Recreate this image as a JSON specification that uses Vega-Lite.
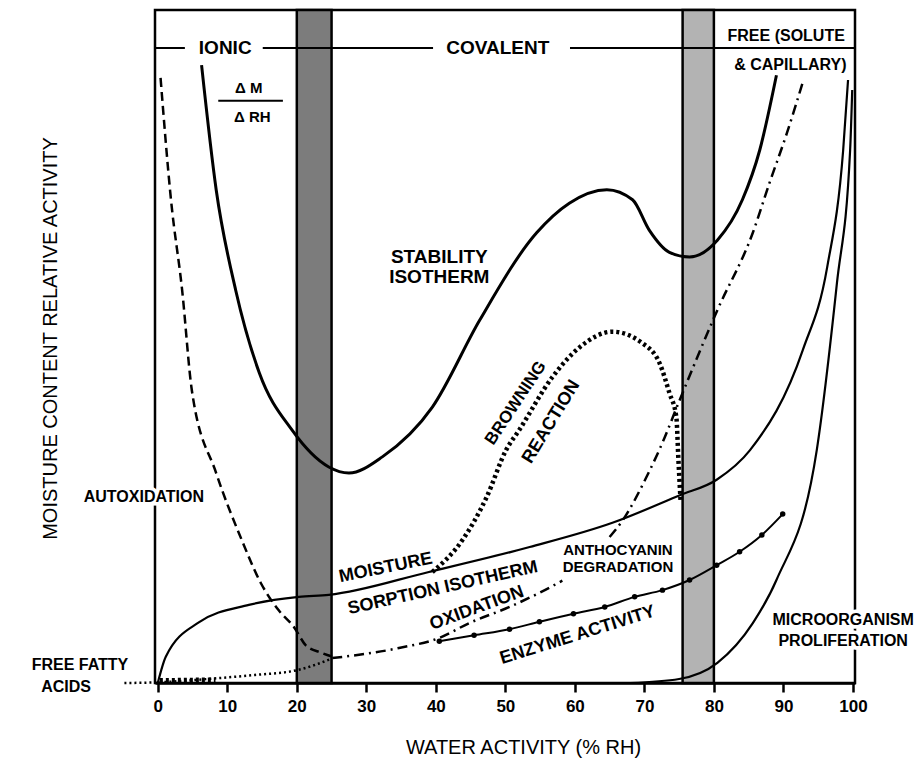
{
  "$schema": "https://vega.github.io/schema/vega-lite/v6.json",
  "width": 700,
  "height": 673,
  "autosize": "none",
  "padding": {"left": 155, "top": 10, "right": 61, "bottom": 79},
  "background": "white",
  "view": {"stroke": "black", "strokeWidth": 2.5},
  "config": {"font": "Liberation Sans", "axis": {"grid": false}},
  "datasets": {
    "bands": [
      {"x": 20, "xe": 25, "b": "hatched"},
      {"x": 75.5, "xe": 80, "b": "stippled"}
    ],
    "rules": [
      {"x": -0.4, "xe": 3.9, "y": 94.35},
      {"x": 15.1, "xe": 39.6, "y": 94.35},
      {"x": 59.3, "xe": 100.3, "y": 94.35},
      {"x": 8.7, "xe": 18.0, "y": 86.5}
    ],
    "curves": [
      {"s": "stab", "x": 6.3, "y": 91.8}, {"s": "stab", "x": 8.4, "y": 73.3}, {"s": "stab", "x": 11.2, "y": 58.4},
      {"s": "stab", "x": 14.6, "y": 46.1}, {"s": "stab", "x": 19.3, "y": 37.6}, {"s": "stab", "x": 24.6, "y": 32.1},
      {"s": "stab", "x": 27.5, "y": 31.2}, {"s": "stab", "x": 32.3, "y": 33.6}, {"s": "stab", "x": 39.5, "y": 41.0},
      {"s": "stab", "x": 46.3, "y": 53.9}, {"s": "stab", "x": 54.5, "y": 66.9}, {"s": "stab", "x": 59.2, "y": 71.3},
      {"s": "stab", "x": 64.6, "y": 73.3}, {"s": "stab", "x": 68.3, "y": 71.8}, {"s": "stab", "x": 70.7, "y": 67.3},
      {"s": "stab", "x": 73.6, "y": 64.0}, {"s": "stab", "x": 76.5, "y": 63.3}, {"s": "stab", "x": 80.5, "y": 65.8},
      {"s": "stab", "x": 84.1, "y": 71.8}, {"s": "stab", "x": 86.6, "y": 79.2}, {"s": "stab", "x": 89.0, "y": 90.3},

      {"s": "autox", "x": 0.4, "y": 89.9}, {"s": "autox", "x": 1.9, "y": 71.8}, {"s": "autox", "x": 3.5, "y": 58.4},
      {"s": "autox", "x": 4.9, "y": 43.5}, {"s": "autox", "x": 8.4, "y": 31.2}, {"s": "autox", "x": 12.1, "y": 21.2},
      {"s": "autox", "x": 14.8, "y": 14.9}, {"s": "autox", "x": 17.4, "y": 10.8}, {"s": "autox", "x": 19.6, "y": 8.3},
      {"s": "autox", "x": 21.3, "y": 5.6}, {"s": "autox", "x": 23.5, "y": 4.5}, {"s": "autox", "x": 25.5, "y": 3.8},

      {"s": "moist", "x": 0, "y": 0}, {"s": "moist", "x": 1.15, "y": 3.9}, {"s": "moist", "x": 5.9, "y": 9.0},
      {"s": "moist", "x": 13.1, "y": 11.6}, {"s": "moist", "x": 20.3, "y": 12.8}, {"s": "moist", "x": 24.6, "y": 13.1},
      {"s": "moist", "x": 39.0, "y": 16.5}, {"s": "moist", "x": 53.5, "y": 20.2}, {"s": "moist", "x": 65.4, "y": 23.8},
      {"s": "moist", "x": 75.1, "y": 27.9}, {"s": "moist", "x": 80.4, "y": 30.2}, {"s": "moist", "x": 85.2, "y": 34.6},
      {"s": "moist", "x": 92.8, "y": 49.5}, {"s": "moist", "x": 96.3, "y": 61.8}, {"s": "moist", "x": 98.6, "y": 79.2},
      {"s": "moist", "x": 99.3, "y": 89.6},

      {"s": "micro", "x": 68, "y": 0}, {"s": "micro", "x": 75, "y": 0.6}, {"s": "micro", "x": 80.5, "y": 3.0},
      {"s": "micro", "x": 85.6, "y": 8.9}, {"s": "micro", "x": 89, "y": 15.3}, {"s": "micro", "x": 94.8, "y": 34.6},
      {"s": "micro", "x": 97.7, "y": 59.4}, {"s": "micro", "x": 99.6, "y": 79.2}, {"s": "micro", "x": 99.9, "y": 88.1},

      {"s": "brown", "x": 39.5, "y": 16.5}, {"s": "brown", "x": 43.8, "y": 21.2}, {"s": "brown", "x": 47.3, "y": 27.6},
      {"s": "brown", "x": 50.1, "y": 34.6}, {"s": "brown", "x": 52.0, "y": 37.6}, {"s": "brown", "x": 56.8, "y": 45.5},
      {"s": "brown", "x": 60.7, "y": 49.9}, {"s": "brown", "x": 65.4, "y": 52.2}, {"s": "brown", "x": 69.7, "y": 50.5},
      {"s": "brown", "x": 72.2, "y": 47.5}, {"s": "brown", "x": 73.6, "y": 43.1}, {"s": "brown", "x": 74.6, "y": 39.5},
      {"s": "brown", "x": 74.9, "y": 33.1}, {"s": "brown", "x": 75.2, "y": 27.2},

      {"s": "brown0", "x": 0.3, "y": 0.4}, {"s": "brown0", "x": 8.3, "y": 0.5},

      {"s": "ffa", "x": -4.8, "y": 0}, {"s": "ffa", "x": 0, "y": 0.1}, {"s": "ffa", "x": 8.4, "y": 0.7},
      {"s": "ffa", "x": 14, "y": 1.2}, {"s": "ffa", "x": 20, "y": 1.9}, {"s": "ffa", "x": 25, "y": 3.6},

      {"s": "oxid", "x": 25.1, "y": 3.7}, {"s": "oxid", "x": 34.7, "y": 5.2}, {"s": "oxid", "x": 40.5, "y": 6.7},
      {"s": "oxid", "x": 44.8, "y": 8.9}, {"s": "oxid", "x": 50.6, "y": 11.3}, {"s": "oxid", "x": 54.9, "y": 13.4},
      {"s": "oxid", "x": 58.2, "y": 15.2},

      {"s": "antho", "x": 65.0, "y": 21.7}, {"s": "antho", "x": 66.9, "y": 24.2}, {"s": "antho", "x": 70.3, "y": 30.6},
      {"s": "antho", "x": 72.6, "y": 35.7}, {"s": "antho", "x": 75.1, "y": 42.1}, {"s": "antho", "x": 80.5, "y": 55.4},
      {"s": "antho", "x": 85.6, "y": 66.9}, {"s": "antho", "x": 88.0, "y": 74.3}, {"s": "antho", "x": 90.5, "y": 81.7},
      {"s": "antho", "x": 92.8, "y": 89.3},

      {"s": "enz", "x": 40.5, "y": 6.2}, {"s": "enz", "x": 45.5, "y": 7.1}, {"s": "enz", "x": 50.6, "y": 8.0},
      {"s": "enz", "x": 54.9, "y": 9.1}, {"s": "enz", "x": 59.8, "y": 10.3}, {"s": "enz", "x": 64.3, "y": 11.3},
      {"s": "enz", "x": 68.6, "y": 12.8}, {"s": "enz", "x": 72.6, "y": 13.8}, {"s": "enz", "x": 76.5, "y": 15.3},
      {"s": "enz", "x": 80.4, "y": 17.5}, {"s": "enz", "x": 83.7, "y": 19.5}, {"s": "enz", "x": 86.9, "y": 22.0},
      {"s": "enz", "x": 89.9, "y": 25.1}
    ],
    "labels": [
      {"t": "IONIC", "x": 9.7, "y": 94.35},
      {"t": "COVALENT", "x": 48.9, "y": 94.35},
      {"t": "FREE (SOLUTE", "x": 90.4, "y": 96.1},
      {"t": "& CAPILLARY)", "x": 91.0, "y": 91.8},
      {"t": "Δ M", "x": 13.1, "y": 88.4},
      {"t": "Δ RH", "x": 13.6, "y": 84.1},
      {"t": "STABILITY", "x": 40.5, "y": 63.3},
      {"t": "ISOTHERM", "x": 40.5, "y": 60.3},
      {"t": "AUTOXIDATION", "x": -2.0, "y": 27.6},
      {"t": "FREE FATTY", "x": -11.2, "y": 2.7},
      {"t": "ACIDS", "x": -13.2, "y": -0.6},
      {"t": "ANTHOCYANIN", "x": 66.2, "y": 19.8},
      {"t": "DEGRADATION", "x": 66.2, "y": 17.2},
      {"t": "MICROORGANISM", "x": 98.6, "y": 9.4},
      {"t": "PROLIFERATION", "x": 98.6, "y": 6.2},
      {"t": "BROWNING", "x": 51.5, "y": 41.6},
      {"t": "REACTION", "x": 56.6, "y": 38.8},
      {"t": "MOISTURE", "x": 32.8, "y": 17.1},
      {"t": "SORPTION ISOTHERM", "x": 41.0, "y": 14.1},
      {"t": "OXIDATION", "x": 45.9, "y": 11.1},
      {"t": "ENZYME ACTIVITY", "x": 60.4, "y": 7.1}
    ]
  },
  "layer": [
    {
      "data": {"name": "bands"},
      "mark": {"type": "rect", "stroke": "black", "strokeWidth": 2.5},
      "encoding": {
        "x": {
          "field": "x", "type": "quantitative",
          "scale": {"domain": [-0.4, 100.3], "nice": false, "zero": false},
          "axis": {
            "values": [0, 10, 20, 30, 40, 50, 60, 70, 80, 90, 100],
            "title": "WATER ACTIVITY  (% RH)",
            "domainColor": "black", "domainWidth": 2.5,
            "tickColor": "black", "tickWidth": 2.5, "tickSize": 9,
            "labelFontSize": 17, "labelFontWeight": "bold", "labelColor": "black", "labelPadding": 6,
            "titleFontSize": 20, "titleFontWeight": "normal", "titleColor": "black",
            "titleX": 368, "titleY": 64, "titleBaseline": "middle"
          }
        },
        "x2": {"field": "xe"},
        "y": {
          "datum": 0, "type": "quantitative",
          "scale": {"domain": [0, 100], "nice": false, "zero": false},
          "axis": {
            "title": "MOISTURE CONTENT RELATIVE ACTIVITY",
            "domain": false, "ticks": false, "labels": false,
            "titleFontSize": 20, "titleFontWeight": "normal", "titleColor": "black",
            "titleX": -105, "titleY": 328, "titleBaseline": "middle", "titleAngle": 270
          }
        },
        "y2": {"datum": 100},
        "fill": {"field": "b", "type": "nominal", "scale": {"domain": ["hatched", "stippled"], "range": ["#7c7c7c", "#b3b3b3"]}, "legend": null}
      }
    },
    {
      "data": {"name": "rules"},
      "mark": {"type": "rule", "color": "black", "strokeWidth": 2},
      "encoding": {
        "x": {"field": "x", "type": "quantitative"},
        "x2": {"field": "xe"},
        "y": {"field": "y", "type": "quantitative"}
      }
    },
    {
      "data": {"name": "curves"},
      "transform": [{"filter": "datum.s === 'stab'"}],
      "mark": {"type": "line", "color": "black", "strokeWidth": 3, "interpolate": "monotone"},
      "encoding": {"x": {"field": "x", "type": "quantitative"}, "y": {"field": "y", "type": "quantitative"}}
    },
    {
      "data": {"name": "curves"},
      "transform": [{"filter": "datum.s === 'moist' || datum.s === 'micro'"}],
      "mark": {"type": "line", "color": "black", "strokeWidth": 2.2, "interpolate": "monotone"},
      "encoding": {"x": {"field": "x", "type": "quantitative"}, "y": {"field": "y", "type": "quantitative"}, "detail": {"field": "s"}}
    },
    {
      "data": {"name": "curves"},
      "transform": [{"filter": "datum.s === 'autox'"}],
      "mark": {"type": "line", "color": "black", "strokeWidth": 2.5, "strokeDash": [9, 5], "interpolate": "monotone"},
      "encoding": {"x": {"field": "x", "type": "quantitative"}, "y": {"field": "y", "type": "quantitative"}}
    },
    {
      "data": {"name": "curves"},
      "transform": [{"filter": "datum.s === 'brown' || datum.s === 'brown0'"}],
      "mark": {"type": "line", "color": "black", "strokeWidth": 4.5, "strokeDash": [3, 3], "interpolate": "monotone"},
      "encoding": {"x": {"field": "x", "type": "quantitative"}, "y": {"field": "y", "type": "quantitative"}, "detail": {"field": "s"}}
    },
    {
      "data": {"name": "curves"},
      "transform": [{"filter": "datum.s === 'ffa'"}],
      "mark": {"type": "line", "color": "black", "strokeWidth": 2.5, "strokeDash": [2, 3], "interpolate": "monotone"},
      "encoding": {"x": {"field": "x", "type": "quantitative"}, "y": {"field": "y", "type": "quantitative"}}
    },
    {
      "data": {"name": "curves"},
      "transform": [{"filter": "datum.s === 'oxid' || datum.s === 'antho'"}],
      "mark": {"type": "line", "color": "black", "strokeWidth": 2.5, "strokeDash": [10, 5, 2, 5], "interpolate": "monotone"},
      "encoding": {"x": {"field": "x", "type": "quantitative"}, "y": {"field": "y", "type": "quantitative"}, "detail": {"field": "s"}}
    },
    {
      "data": {"name": "curves"},
      "transform": [{"filter": "datum.s === 'enz'"}],
      "mark": {"type": "line", "color": "black", "strokeWidth": 2, "interpolate": "monotone"},
      "encoding": {"x": {"field": "x", "type": "quantitative"}, "y": {"field": "y", "type": "quantitative"}}
    },
    {
      "data": {"name": "curves"},
      "transform": [{"filter": "datum.s === 'enz'"}],
      "mark": {"type": "point", "filled": true, "color": "black", "size": 30, "opacity": 1},
      "encoding": {"x": {"field": "x", "type": "quantitative"}, "y": {"field": "y", "type": "quantitative"}}
    },
    {
      "data": {"name": "labels"},
      "transform": [{"filter": "indexof(['AUTOXIDATION','MICROORGANISM','PROLIFERATION'], datum.t) >= 0"}],
      "mark": {"type": "text", "fontSize": 16, "fontWeight": "bold", "align": "center", "baseline": "middle", "fill": "white", "stroke": "white", "strokeWidth": 7},
      "encoding": {"x": {"field": "x", "type": "quantitative"}, "y": {"field": "y", "type": "quantitative"}, "text": {"field": "t"}}
    },
    {
      "data": {"name": "labels"},
      "transform": [{"filter": "indexof(['IONIC','COVALENT','STABILITY','ISOTHERM'], datum.t) >= 0"}],
      "mark": {"type": "text", "fontSize": 19, "fontWeight": "bold", "align": "center", "baseline": "middle", "color": "black"},
      "encoding": {"x": {"field": "x", "type": "quantitative"}, "y": {"field": "y", "type": "quantitative"}, "text": {"field": "t"}}
    },
    {
      "data": {"name": "labels"},
      "transform": [{"filter": "indexof(['FREE (SOLUTE','& CAPILLARY)','AUTOXIDATION','FREE FATTY','ACIDS','MICROORGANISM','PROLIFERATION'], datum.t) >= 0"}],
      "mark": {"type": "text", "fontSize": 16, "fontWeight": "bold", "align": "center", "baseline": "middle", "color": "black"},
      "encoding": {"x": {"field": "x", "type": "quantitative"}, "y": {"field": "y", "type": "quantitative"}, "text": {"field": "t"}}
    },
    {
      "data": {"name": "labels"},
      "transform": [{"filter": "indexof(['ANTHOCYANIN','DEGRADATION','Δ M','Δ RH'], datum.t) >= 0"}],
      "mark": {"type": "text", "fontSize": 15, "fontWeight": "bold", "align": "center", "baseline": "middle", "color": "black"},
      "encoding": {"x": {"field": "x", "type": "quantitative"}, "y": {"field": "y", "type": "quantitative"}, "text": {"field": "t"}}
    },
    {
      "data": {"name": "labels"},
      "transform": [{"filter": "datum.t === 'BROWNING'"}],
      "mark": {"type": "text", "fontSize": 17, "fontWeight": "bold", "align": "center", "baseline": "middle", "color": "black", "angle": 303.5},
      "encoding": {"x": {"field": "x", "type": "quantitative"}, "y": {"field": "y", "type": "quantitative"}, "text": {"field": "t"}}
    },
    {
      "data": {"name": "labels"},
      "transform": [{"filter": "datum.t === 'REACTION'"}],
      "mark": {"type": "text", "fontSize": 18, "fontWeight": "bold", "align": "center", "baseline": "middle", "color": "black", "angle": 301.5},
      "encoding": {"x": {"field": "x", "type": "quantitative"}, "y": {"field": "y", "type": "quantitative"}, "text": {"field": "t"}}
    },
    {
      "data": {"name": "labels"},
      "transform": [{"filter": "datum.t === 'MOISTURE'"}],
      "mark": {"type": "text", "fontSize": 18, "fontWeight": "bold", "align": "center", "baseline": "middle", "color": "black", "angle": 348.5},
      "encoding": {"x": {"field": "x", "type": "quantitative"}, "y": {"field": "y", "type": "quantitative"}, "text": {"field": "t"}}
    },
    {
      "data": {"name": "labels"},
      "transform": [{"filter": "datum.t === 'SORPTION ISOTHERM'"}],
      "mark": {"type": "text", "fontSize": 18, "fontWeight": "bold", "align": "center", "baseline": "middle", "color": "black", "angle": 347.3},
      "encoding": {"x": {"field": "x", "type": "quantitative"}, "y": {"field": "y", "type": "quantitative"}, "text": {"field": "t"}}
    },
    {
      "data": {"name": "labels"},
      "transform": [{"filter": "datum.t === 'OXIDATION'"}],
      "mark": {"type": "text", "fontSize": 18, "fontWeight": "bold", "align": "center", "baseline": "middle", "color": "black", "angle": 339.7},
      "encoding": {"x": {"field": "x", "type": "quantitative"}, "y": {"field": "y", "type": "quantitative"}, "text": {"field": "t"}}
    },
    {
      "data": {"name": "labels"},
      "transform": [{"filter": "datum.t === 'ENZYME ACTIVITY'"}],
      "mark": {"type": "text", "fontSize": 18, "fontWeight": "bold", "align": "center", "baseline": "middle", "color": "black", "angle": 342.7},
      "encoding": {"x": {"field": "x", "type": "quantitative"}, "y": {"field": "y", "type": "quantitative"}, "text": {"field": "t"}}
    }
  ]
}
